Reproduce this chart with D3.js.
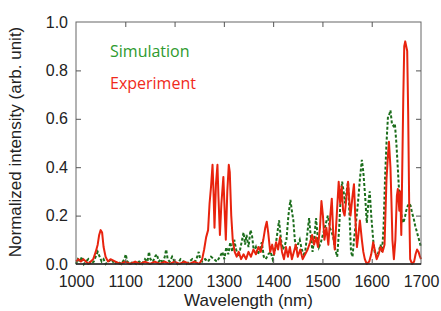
<!DOCTYPE html>
<html lang="en">
<head>
  <meta charset="UTF-8">
  <title>Simulation vs Experiment spectrum</title>
  <script src="https://d3js.org/d3.v7.min.js"></script>
  <style>
    body { margin: 0; background: white; }
    .axis text { font-family: "Liberation Sans", Arial, sans-serif; font-size: 16px; fill: #222; }
    .axis line { stroke: #555; }
    .axis path { display: none; }
    .title { font-family: "Liberation Sans", Arial, sans-serif; font-size: 17px; fill: #222; }
    .legend { font-family: "Open Sans", sans-serif; font-size: 16px; }
  </style>
</head>
<body>
  <div id="chart"></div>
  <script>
    // experiment (red, solid)
    const expWl = [1000,1005,1010,1015,1020,1025,1030,1035,1040,1044,1047,1050,1053,1056,1060,1065,1070,1080,1090,1100,1110,1120,1130,1140,1150,1160,1170,1180,1190,1200,1210,1220,1230,1240,1250,1256,1260,1264,1268,1271,1274,1277,1279,1281,1284,1287,1289,1292,1295,1299,1302,1304,1307,1310,1312,1315,1318,1322,1326,1330,1335,1340,1345,1350,1355,1360,1365,1370,1375,1380,1384,1387,1390,1394,1398,1402,1406,1410,1414,1418,1422,1426,1430,1434,1438,1442,1446,1450,1455,1460,1465,1470,1475,1479,1483,1487,1491,1495,1498,1501,1504,1508,1512,1516,1519,1522,1525,1529,1533,1536,1539,1542,1545,1549,1552,1555,1557,1561,1564,1567,1570,1573,1576,1580,1583,1586,1590,1595,1599,1603,1606,1610,1614,1618,1622,1626,1630,1633,1635,1638,1640,1642,1645,1648,1651,1653,1656,1658,1660,1662,1664,1666,1668,1670,1672,1674,1676,1678,1682,1686,1689,1692,1695,1698,1700];
    const expVal = [0.01,0.02,0.01,0.02,0.01,0.0,0.01,0.02,0.05,0.08,0.12,0.14,0.13,0.07,0.03,0.01,0.02,0.01,0.0,0.01,0.0,0.01,0.0,0.01,0.0,0.01,0.0,0.01,0.0,0.01,0.0,0.01,0.0,0.01,0.0,0.02,0.06,0.11,0.14,0.25,0.32,0.41,0.3,0.15,0.33,0.41,0.28,0.12,0.25,0.36,0.2,0.1,0.3,0.41,0.38,0.2,0.1,0.05,0.03,0.05,0.02,0.04,0.02,0.05,0.03,0.06,0.04,0.07,0.05,0.1,0.15,0.175,0.13,0.05,0.08,0.04,0.09,0.06,0.11,0.05,0.02,0.07,0.03,0.07,0.02,0.05,0.08,0.03,0.06,0.02,0.04,0.06,0.09,0.12,0.08,0.11,0.07,0.15,0.26,0.2,0.1,0.15,0.08,0.2,0.27,0.12,0.06,0.2,0.34,0.25,0.32,0.22,0.2,0.28,0.34,0.25,0.2,0.28,0.33,0.18,0.07,0.12,0.18,0.1,0.05,0.02,0.0,0.01,0.04,0.09,0.06,0.02,0.04,0.07,0.05,0.08,0.35,0.45,0.505,0.4,0.26,0.1,0.02,0.1,0.28,0.31,0.22,0.3,0.12,0.4,0.68,0.9,0.92,0.9,0.88,0.62,0.25,0.02,0.0,0.01,0.04,0.06,0.05,0.03,0.02];

    // simulation (green, dashed)
    const simWl = [1000,1004,1008,1012,1016,1020,1025,1030,1036,1040,1044,1048,1052,1056,1060,1066,1072,1078,1085,1092,1098,1101,1104,1110,1116,1122,1128,1134,1140,1145,1148,1151,1156,1160,1164,1168,1172,1176,1180,1183,1186,1190,1195,1200,1206,1212,1218,1224,1230,1236,1242,1246,1249,1252,1256,1262,1268,1274,1280,1286,1292,1297,1301,1305,1309,1313,1317,1321,1325,1329,1333,1337,1340,1343,1346,1350,1354,1357,1361,1365,1369,1373,1377,1381,1385,1390,1395,1399,1404,1408,1412,1416,1420,1424,1427,1431,1435,1438,1441,1444,1447,1450,1454,1458,1462,1465,1469,1473,1476,1480,1484,1487,1490,1493,1497,1502,1506,1511,1515,1519,1522,1526,1530,1534,1537,1540,1543,1546,1549,1552,1555,1558,1561,1564,1568,1572,1576,1580,1583,1587,1590,1593,1596,1599,1603,1606,1610,1614,1618,1621,1624,1627,1630,1633,1636,1638,1641,1644,1647,1650,1652,1655,1658,1661,1664,1667,1670,1673,1676,1679,1682,1685,1688,1692,1696,1700];
    const simVal = [0.0,0.02,0.01,0.03,0.0,0.01,0.02,0.0,0.01,0.03,0.05,0.03,0.01,0.02,0.0,0.01,0.02,0.0,0.01,0.0,0.02,0.04,0.01,0.0,0.01,0.0,0.01,0.0,0.02,0.01,0.05,0.02,0.01,0.03,0.04,0.01,0.02,0.0,0.03,0.06,0.02,0.01,0.03,0.01,0.0,0.02,0.01,0.0,0.01,0.02,0.01,0.03,0.05,0.02,0.01,0.02,0.01,0.03,0.02,0.01,0.03,0.05,0.02,0.07,0.04,0.09,0.05,0.1,0.06,0.03,0.06,0.1,0.13,0.08,0.12,0.07,0.14,0.12,0.05,0.07,0.04,0.06,0.09,0.03,0.02,0.04,0.05,0.02,0.06,0.12,0.18,0.1,0.06,0.08,0.1,0.2,0.265,0.22,0.18,0.1,0.06,0.08,0.1,0.06,0.04,0.05,0.12,0.19,0.12,0.05,0.12,0.19,0.12,0.07,0.09,0.13,0.16,0.2,0.15,0.13,0.11,0.06,0.03,0.15,0.28,0.34,0.3,0.25,0.3,0.34,0.2,0.05,0.03,0.1,0.17,0.25,0.35,0.43,0.38,0.27,0.17,0.25,0.3,0.2,0.1,0.05,0.03,0.05,0.08,0.05,0.15,0.35,0.5,0.61,0.62,0.635,0.58,0.57,0.58,0.5,0.43,0.32,0.25,0.19,0.17,0.19,0.22,0.24,0.25,0.24,0.21,0.19,0.16,0.13,0.1,0.07];

    const xTicks = [1000,1100,1200,1300,1400,1500,1600,1700];
    const yTicks = [0.0,0.2,0.4,0.6,0.8,1.0];

    const width = 441, height = 311;
    const mLeft = 76, mRight = 421, mTop = 22, mBottom = 264;

    const svg = d3.select("#chart").append("svg")
      .attr("width", width)
      .attr("height", height);

    const x = d3.scaleLinear().domain([1000, 1700]).range([mLeft, mRight]);
    const y = d3.scaleLinear().domain([0, 1]).range([mBottom, mTop]);

    const line = d3.line().x(d => x(d[0])).y(d => y(d[1]));

    // simulation below, experiment on top
    svg.append("path")
      .datum(simWl.map((w, i) => [w, simVal[i]]))
      .attr("d", line)
      .attr("fill", "none")
      .attr("stroke", "#1b6d1b")
      .attr("stroke-width", 2)
      .attr("stroke-dasharray", "3,2");

    svg.append("path")
      .datum(expWl.map((w, i) => [w, expVal[i]]))
      .attr("d", line)
      .attr("fill", "none")
      .attr("stroke", "#e8230e")
      .attr("stroke-width", 2)
      .attr("stroke-linejoin", "round");

    // frame
    svg.append("rect")
      .attr("x", mLeft).attr("y", mTop)
      .attr("width", mRight - mLeft).attr("height", mBottom - mTop)
      .attr("fill", "none").attr("stroke", "#666").attr("stroke-width", 1);
    svg.append("line")
      .attr("x1", mLeft).attr("x2", mRight).attr("y1", mBottom).attr("y2", mBottom)
      .attr("stroke", "#222").attr("stroke-width", 1.5);

    const inner = xTicks.slice(1, -1);
    const innerY = yTicks.slice(1, -1);

    svg.append("g").attr("class", "axis")
      .attr("transform", `translate(0,${mBottom})`)
      .call(d3.axisBottom(x).tickValues(xTicks).tickSizeInner(0).tickSizeOuter(0).tickPadding(12).tickFormat(d3.format("d")));
    svg.append("g").attr("class", "axis")
      .attr("transform", `translate(0,${mBottom})`)
      .call(d3.axisBottom(x).tickValues(inner).tickSize(-5).tickFormat(""));
    svg.append("g").attr("class", "axis")
      .attr("transform", `translate(0,${mTop})`)
      .call(d3.axisTop(x).tickValues(inner).tickSize(-5).tickFormat(""));

    svg.append("g").attr("class", "axis")
      .attr("transform", `translate(${mLeft},0)`)
      .call(d3.axisLeft(y).tickValues(yTicks).tickSizeInner(0).tickSizeOuter(0).tickPadding(8).tickFormat(d3.format(".1f")));
    svg.append("g").attr("class", "axis")
      .attr("transform", `translate(${mLeft},0)`)
      .call(d3.axisLeft(y).tickValues(innerY).tickSize(-5).tickFormat(""));
    svg.append("g").attr("class", "axis")
      .attr("transform", `translate(${mRight},0)`)
      .call(d3.axisRight(y).tickValues(innerY).tickSize(-5).tickFormat(""));

    svg.append("text").attr("class", "title")
      .attr("x", (mLeft + mRight) / 2).attr("y", 306)
      .attr("text-anchor", "middle")
      .text("Wavelength (nm)");

    svg.append("text").attr("class", "title")
      .attr("transform", "translate(21,142) rotate(-90)")
      .attr("text-anchor", "middle")
      .text("Normalized intensity (arb. unit)");

    svg.append("text").attr("class", "legend")
      .attr("x", 110).attr("y", 57)
      .attr("fill", "#2e9a2e")
      .text("Simulation");
    svg.append("text").attr("class", "legend")
      .attr("x", 110).attr("y", 89)
      .attr("fill", "#f02a1c")
      .text("Experiment");
  </script>
</body>
</html>
